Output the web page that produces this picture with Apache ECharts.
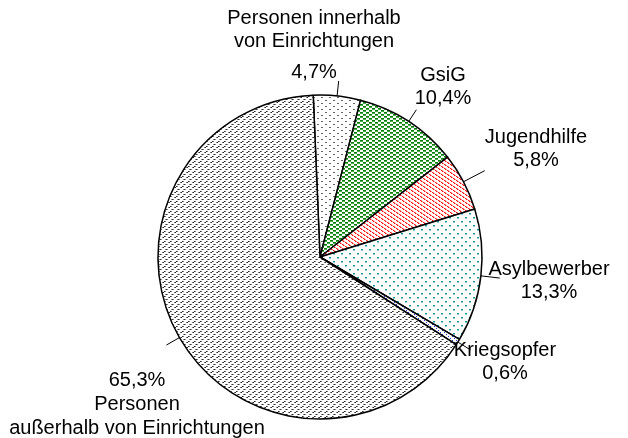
<!DOCTYPE html>
<html>
<head>
<meta charset="utf-8">
<script src="https://cdn.jsdelivr.net/npm/echarts@6/dist/echarts.min.js"></script>
<style>
  html, body { margin: 0; padding: 0; background: #fff; }
  #chart { width: 628px; height: 438px; }
</style>
</head>
<body>
<div id="chart"></div>
<script>
// Kategorien und Anteile (%), im Uhrzeigersinn ab oben
var categories = ['Personen innerhalb von Einrichtungen', 'GsiG', 'Jugendhilfe', 'Asylbewerber', 'Kriegsopfer', 'Personen außerhalb von Einrichtungen'];
var shares = [4.7, 10.4, 5.8, 13.3, 0.6, 65.3];
var nameLines = [['Personen innerhalb', 'von Einrichtungen'], ['GsiG'], ['Jugendhilfe'], ['Asylbewerber'], ['Kriegsopfer'], ['Personen', 'außerhalb von Einrichtungen']];

// Lage der Beschriftungen
var labelX = [314, 443, 536, 549, 505, 137];
var labelY = [49.5, 86.5, 148.5, 280.5, 362, 404];
var lineLen = [15, 14, 24, 19, 15, 15];

var FONT = 'Liberation Sans, Arial, sans-serif';

function tile(w, h, draw) {
	var c = document.createElement('canvas');
	c.width = w;
	c.height = h;
	var g = c.getContext('2d');
	g.fillStyle = '#fff';
	g.fillRect(0, 0, w, h);
	draw(g);
	return { image: c, repeat: 'repeat' };
}

function px(g, col, pts) {
	g.fillStyle = col;
	pts.forEach(function(p) { g.fillRect(p[0], p[1], p[2] || 1, p[3] || 1); });
}

var patterns = [
	// innerhalb: spärliche graue Punktpaare
	tile(8, 6, function(g) {
		px(g, '#666', [[1, 1, 2, 1], [5, 4, 2, 1]]);
	}),
	// GsiG: grüne Striche
	tile(6, 4, function(g) {
		px(g, '#087a08', [[0, 0, 3, 1], [3, 2, 3, 1]]);
		px(g, '#4aab4a', [[0, 1, 3, 1], [3, 3, 3, 1]]);
	}),
	// Jugendhilfe: rote Schrägstriche
	tile(6, 4, function(g) {
		px(g, '#f11', [[0, 0], [1, 1], [3, 2], [4, 3]]);
		px(g, '#f88', [[1, 0], [2, 1], [4, 2], [5, 3]]);
	}),
	// Asylbewerber: türkise Punkte
	tile(8, 8, function(g) {
		px(g, '#179494', [[1, 1, 2, 1], [5, 5, 2, 1]]);
		px(g, '#8ccfcf', [[1, 2, 2, 1], [5, 6, 2, 1]]);
	}),
	// Kriegsopfer: blaue Punkte
	tile(4, 4, function(g) {
		px(g, '#2233cc', [[0, 0], [2, 2]]);
	}),
	// außerhalb: graue Schrägstriche
	tile(6, 5, function(g) {
		px(g, '#2a2a2a', [[1, 2], [2, 1]]);
		px(g, '#7a7a7a', [[0, 2], [3, 1]]);
		px(g, '#333', [[4, 4]]);
		px(g, '#888', [[5, 4], [3, 4]]);
	})
];

function pct(v) {
	return v.toFixed(1).replace('.', ',') + '%';
}

var data = categories.map(function(name, i) {
	return {
		name: name,
		value: shares[i],
		itemStyle: { color: patterns[i] },
		labelLine: { length: lineLen[i], length2: 0 }
	};
});

var myChart = echarts.init(document.getElementById('chart'));

var option = {
	animation: false,
	series: [{
		type: 'pie',
		center: [320, 257],
		radius: 162,
		startAngle: 92.4,
		clockwise: true,
		avoidLabelOverlap: false,
		data: data,
		itemStyle: {
			borderColor: '#000',
			borderWidth: 1.5
		},
		emphasis: { disabled: true },
		label: {
			show: true,
			color: '#000',
			fontFamily: FONT,
			fontSize: 20,
			formatter: function(p) {
				var i = p.dataIndex;
				var lines = nameLines[i].map(function(s) { return '{t|' + s + '}'; });
				if (i === 0) {
					return lines.join('\n') + '\n{g|' + pct(shares[i]) + '}';
				}
				if (i === 5) {
					return '{b|' + pct(shares[i]) + '}\n' + nameLines[i].map(function(s) { return '{b|' + s + '}'; }).join('\n');
				}
				return lines.join('\n') + '\n{t|' + pct(shares[i]) + '}';
			},
			rich: {
				t: { fontSize: 20, lineHeight: 23, color: '#000', fontFamily: FONT },
				b: { fontSize: 20, lineHeight: 24, color: '#000', fontFamily: FONT },
				g: { fontSize: 20, lineHeight: 40, color: '#000', fontFamily: FONT }
			}
		},
		labelLine: {
			show: true,
			lineStyle: { color: '#000', width: 1 }
		},
		labelLayout: function(params) {
			var i = params.dataIndex;
			return {
				x: labelX[i],
				y: labelY[i],
				align: 'center',
				verticalAlign: 'middle',
				labelLinePoints: params.labelLinePoints
			};
		}
	}]
};

myChart.setOption(option, true);
</script>
</body>
</html>
